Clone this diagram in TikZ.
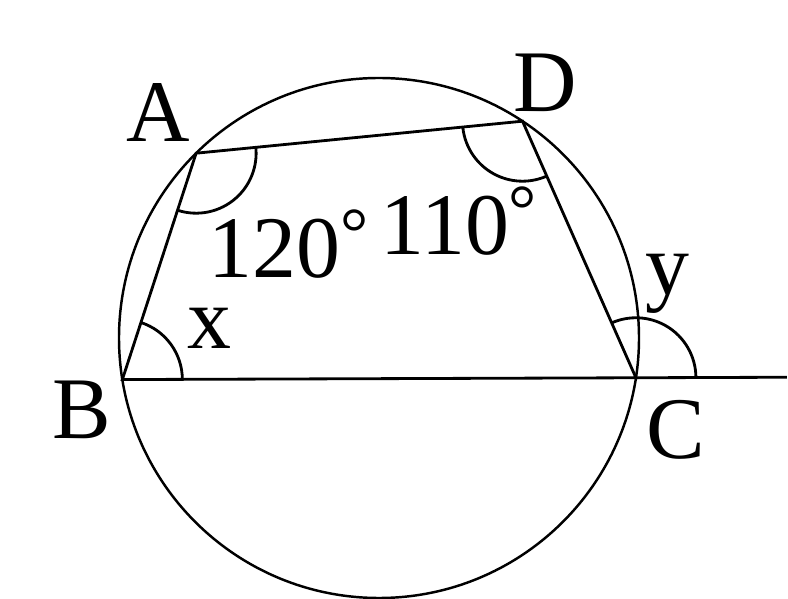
\documentclass[tikz,border=0pt]{standalone}
\usepackage{fontspec}
\setmainfont{Liberation Serif}
\usetikzlibrary{calc,angles}
\newcommand{\degr}{{\fontsize{40}{40}\selectfont\raisebox{12.5pt}{°}}}
\tikzset{
  lbl/.style={inner sep=0pt, font=\fontsize{50}{60}\selectfont},
  ang/.style={draw, angle radius=1.2cm}
}
\begin{document}
\begin{tikzpicture}[line width=1.6pt]
        \useasboundingbox (0,0) rectangle (15.76,11.98);
        \coordinate (O) at (7.58,5.22);
        \coordinate (A) at ($(O)+(134.7:5.2)$);
        \coordinate (D) at ($(O)+(56.5:5.2)$);
        \coordinate (B) at ($(O)+(189.2:5.2)$);
        \coordinate (C) at ($(O)+(-8.8:5.2)$);
        \coordinate (E) at ($(B)!1.294!(C)$);
        \draw[line width=1.4pt] (O) circle (5.2);
        \draw (A) -- (D) -- (C) -- (B) -- cycle;
        \draw (C) -- (E);
        \pic[ang] {angle = B--A--D};
        \pic[ang] {angle = A--D--C};
        \pic[ang] {angle = C--B--A};
        \pic[ang] {angle = E--C--D};
        \node[lbl] (la) at (3.16,9.72) {A};
        \node[lbl] (lb) at (1.64,3.78) {B};
        \node[lbl] (lc) at (13.52,3.38) {C};
        \node[lbl] (ld) at (10.9,10.32) {D};
        \node[lbl] (lx) at (4.18,5.42) {x};
        \node[lbl] (ly) at (13.34,6.3) {y};
        \node[lbl, anchor=base west] (l120) at (4.14,6.42) {120\degr};
        \node[lbl, anchor=base west] (l110) at (7.58,6.88) {110\degr};
\end{tikzpicture}
\end{document}
